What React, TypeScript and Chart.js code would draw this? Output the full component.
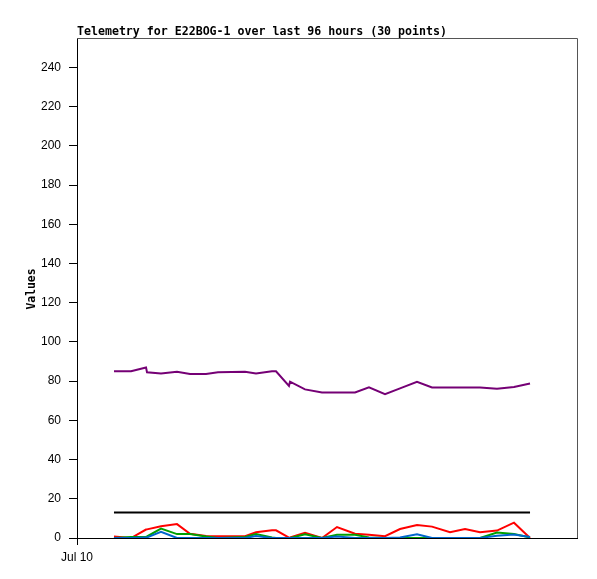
import React, { useEffect, useRef } from 'react';
import { Chart, registerables } from 'chart.js';

Chart.register(...registerables);

const TITLE = 'Telemetry for E22BOG-1 over last 96 hours (30 points)';
const Y_LABEL = 'Values';
const X_TICK_LABEL = 'Jul 10';

// hours since Jul 10 00:00
const hours = [7.10, 10.37, 13.25, 13.44, 16.13, 19.20, 21.70, 24.77, 27.07, 32.26, 34.37, 37.44, 38.21, 40.70, 40.90, 43.78, 47.04, 49.92, 53.38, 56.06, 59.14, 62.02, 65.28, 68.16, 71.62, 74.50, 77.38, 80.64, 83.90, 86.98];

const purpleVals = [85, 85, 87, 84.5, 83.9, 84.8, 83.7, 83.7, 84.5, 84.8, 83.9, 85, 85, 77.6, 79.7, 75.8, 74.2, 74.2, 74.2, 76.8, 73.4, 76.3, 79.7, 76.8, 76.8, 76.8, 76.8, 76.1, 77, 78.8];
const blackVals = [13, 13, 13, 13, 13, 13, 13, 13, 13, 13, 13, 13, 13, 13, 13, 13, 13, 13, 13, 13, 13, 13, 13, 13, 13, 13, 13, 13, 13, 13];
const redVals = [0.8, 0, 4.3, 4.4, 6.0, 7.1, 2.2, 1.0, 0.9, 0.9, 2.9, 3.9, 3.9, 0.2, 0.3, 2.7, 0, 5.6, 2.2, 1.6, 0.9, 4.6, 6.6, 5.8, 2.9, 4.6, 2.9, 3.8, 7.8, 0];
const greenVals = [0, 0.5, 0.7, 0.8, 4.8, 2, 2, 0.8, 0, 0.5, 2, 0.3, 0, 0, 0, 1.9, 0, 1.6, 1.7, 0.3, 0, 0, 0, 0, 0, 0, 0, 2.8, 2, 0.3];
const blueVals = [0, 0, 0.3, 0.3, 3.1, 0, 0, 0, 0, 0, 1, 0, 0, 0, 0, 0, 0, 0.8, 0, 0, 0, 0.3, 1.9, 0, 0, 0, 0, 1.2, 1.8, 0.5];

const yTicks = [0, 20, 40, 60, 80, 100, 120, 140, 160, 180, 200, 220, 240];

const pts = (vals: number[]) => vals.map((v, i) => ({ x: hours[i], y: v }));

const labelsPlugin = {
  id: 'labelsPlugin',
  afterDraw(chart: any) {
    const { ctx, chartArea } = chart;
    ctx.save();
    // frame (top and right)
    ctx.strokeStyle = '#555';
    ctx.lineWidth = 1;
    ctx.beginPath();
    ctx.moveTo(chartArea.left, chartArea.top + 0.5);
    ctx.lineTo(chartArea.right + 0.5, chartArea.top + 0.5);
    ctx.lineTo(chartArea.right + 0.5, chartArea.bottom);
    ctx.stroke();
    // title
    ctx.fillStyle = '#000';
    ctx.font = 'bold 11.6px "DejaVu Sans Mono", monospace';
    ctx.textAlign = 'left';
    ctx.textBaseline = 'alphabetic';
    ctx.fillText(TITLE, chartArea.left, chartArea.top - 3);
    // y label
    ctx.translate(32, (chartArea.top + chartArea.bottom) / 2 + 1);
    ctx.rotate(-Math.PI / 2);
    ctx.textAlign = 'center';
    ctx.textBaseline = 'middle';
    ctx.font = 'bold 11.4px "DejaVu Sans Mono", monospace';
    ctx.fillText(Y_LABEL, 0, 0);
    ctx.restore();
  },
};

export default function App() {
  const ref = useRef<HTMLCanvasElement>(null);
  useEffect(() => {
    document.body.style.margin = '0';
    const line = (label: string, vals: number[], color: string) => ({
      label,
      data: pts(vals),
      borderColor: color,
      backgroundColor: color,
      borderWidth: 2,
      pointRadius: 0,
      tension: 0,
      fill: false,
    });
    const chart = new Chart(ref.current!, {
      type: 'line',
      data: {
        datasets: [
          line('blue', blueVals, '#0066CC'),
          line('green', greenVals, '#00A000'),
          line('red', redVals, '#FF0000'),
          line('black', blackVals, '#000000'),
          line('purple', purpleVals, '#750075'),
        ],
      },
      options: {
        animation: false,
        responsive: false,
        devicePixelRatio: 1,
        layout: { padding: { top: 38, right: 20, left: 0, bottom: 0 } },
        plugins: { legend: { display: false }, tooltip: { enabled: false }, title: { display: false } },
        scales: {
          x: {
            type: 'linear',
            min: 0,
            max: 96,
            afterBuildTicks: (s: any) => { s.ticks = [{ value: 0 }]; },
            afterFit: (s: any) => { s.height = 41; },
            ticks: {
              callback: (v: any) => (v === 0 ? X_TICK_LABEL : ''),
              color: '#000',
              font: { family: '"Liberation Sans", sans-serif', size: 12 },
              padding: 5,
              maxRotation: 0,
              autoSkip: false,
            },
            grid: { drawOnChartArea: false, drawTicks: true, tickLength: 7, tickColor: '#000' },
            border: { color: '#000', width: 1 },
          },
          y: {
            type: 'linear',
            min: 0,
            max: 255,
            afterBuildTicks: (s: any) => { s.ticks = yTicks.map((v) => ({ value: v })); },
            afterFit: (s: any) => { s.width = 77; },
            ticks: {
              color: '#000',
              font: { family: '"Liberation Sans", sans-serif', size: 12 },
              padding: 8,
            },
            grid: { drawOnChartArea: false, drawTicks: true, tickLength: 8, tickColor: '#000' },
            border: { color: '#000', width: 1 },
          },
        },
      },
      plugins: [labelsPlugin],
    } as any);
    return () => chart.destroy();
  }, []);
  return (
    <div style={{ position: 'absolute', left: 0, top: 0, width: 597, height: 579 }}>
      <canvas ref={ref} width={597} height={579} style={{ width: 597, height: 579 }} />
    </div>
  );
}
